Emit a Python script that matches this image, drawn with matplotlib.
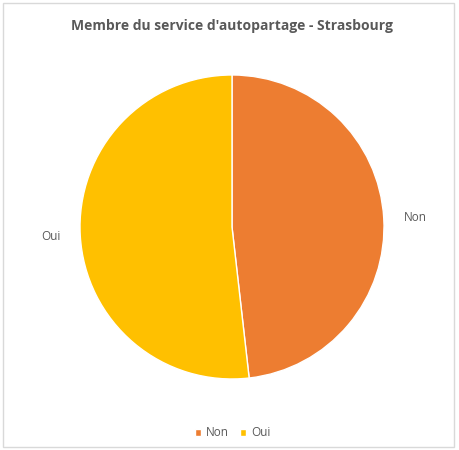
import matplotlib.pyplot as plt
from matplotlib.patches import Rectangle

labels = ["Non", "Oui"]
values = [48.2, 51.8]
colors = ["#ED7D31", "#FFC000"]

plt.rcParams['font.family'] = ['Open Sans', 'DejaVu Sans']

fig = plt.figure(figsize=(4.59, 4.5), dpi=100)
ax = fig.add_axes([0.1743, 0.1578, 0.6623, 0.6756])

wedges, texts = ax.pie(values, labels=labels, colors=colors, startangle=90,
                       counterclock=False, labeldistance=1.13,
                       wedgeprops=dict(edgecolor="white", linewidth=1),
                       textprops=dict(color="#595959", fontsize=8.5))
ax.set_xlim(-1, 1)
ax.set_ylim(-1, 1)
ax.set_aspect('equal')

fig.text(0.505, 0.942, "Membre du service d'autopartage - Strasbourg",
         ha="center", va="center", fontsize=10, fontweight="bold", color="#595959")

fig.legend(wedges, labels, loc="center", bbox_to_anchor=(0.507, 0.038),
           ncol=2, frameon=False, fontsize=8.5, labelcolor="#595959",
           handlelength=0.5, handleheight=0.5, handletextpad=0.4, columnspacing=1.0)

# thin grey frame round the chart area
fig.patches.append(Rectangle((0.006, 0.006), 0.984, 0.988, transform=fig.transFigure,
                             fill=False, edgecolor="#D9D9D9", linewidth=1))

fig.savefig("out.png", dpi=100, facecolor="white")
